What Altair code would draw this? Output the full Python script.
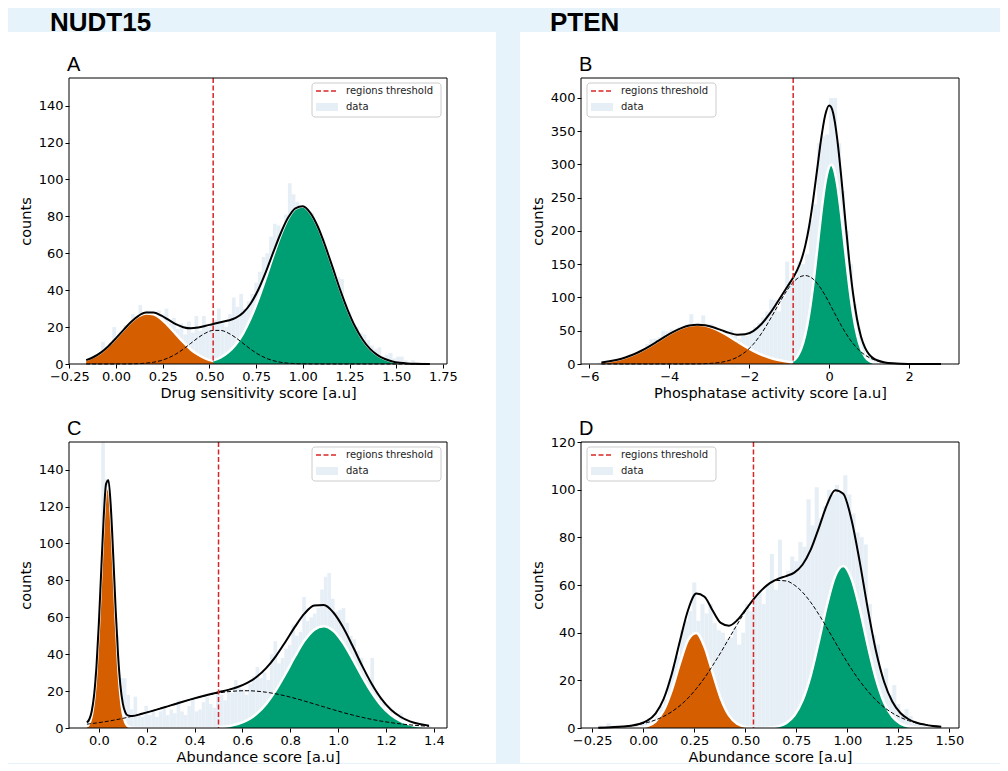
import altair as alt
import pandas as pd

# ---------------- data ----------------
# Panel A (NUDT15, drug sensitivity)
A_x = [-0.16, -0.12, -0.08, -0.04, 0.00, 0.04, 0.08, 0.12, 0.16, 0.20, 0.24, 0.28, 0.32, 0.36, 0.40, 0.44,
       0.48, 0.52, 0.56, 0.60, 0.64, 0.68, 0.72, 0.76, 0.80, 0.84, 0.88, 0.92, 0.96, 1.00, 1.04, 1.08,
       1.12, 1.16, 1.20, 1.24, 1.28, 1.32, 1.36, 1.40, 1.44, 1.48, 1.52, 1.56, 1.60, 1.64, 1.68]
A_low = [2.1, 3.8, 6.3, 9.8, 14.0, 18.5, 22.7, 25.9, 27.4, 26.9, 24.5, 20.7, 16.2, 11.8, 7.9, 5.0,
         2.9, 1.55, 0.8, 0.4, 0.15, 0.06, 0, 0, 0, 0, 0, 0, 0, 0, 0, 0,
         0, 0, 0, 0, 0, 0, 0, 0, 0, 0, 0, 0, 0, 0, 0]
A_mid = [0, 0, 0, 0, 0.01, 0.03, 0.08, 0.2, 0.46, 0.96, 1.85, 3.3, 5.35, 8.05, 11.2, 14.3,
         16.8, 18.2, 18.2, 16.8, 14.3, 11.2, 8.05, 5.35, 3.3, 1.85, 0.96, 0.46, 0.2, 0.08, 0.03, 0.01,
         0, 0, 0, 0, 0, 0, 0, 0, 0, 0, 0, 0, 0, 0, 0]
A_high = [0, 0, 0, 0, 0, 0, 0, 0, 0, 0, 0, 0, 0.04, 0.1, 0.22, 0.49,
          1.0, 1.96, 3.6, 6.35, 10.5, 16.5, 24.6, 34.6, 46.1, 58.2, 69.5, 78.6, 84.2, 85.4, 81.9, 74.5,
          64.0, 52.2, 40.2, 29.4, 20.3, 13.3, 8.2, 4.8, 2.7, 1.4, 0.7, 0.33, 0.15, 0.06, 0.02]
A_thr = 0.52
A_bin_start, A_bin_w = -0.16, 0.02
A_counts = [2, 3, 5, 6, 12, 9, 11, 20, 15, 18, 21, 19, 27, 24, 32, 26, 29, 25, 24, 29,
            27, 30, 22, 25, 19, 22, 16, 23, 17, 26, 18, 26, 20, 21, 24, 30, 22, 20, 27, 36,
            31, 38, 30, 34, 38, 44, 50, 58, 60, 69, 76, 75, 72, 81, 98, 92, 88, 84, 80, 78,
            82, 72, 70, 68, 60, 55, 50, 47, 46, 32, 28, 22, 20, 17, 16, 13, 10, 8, 9, 4,
            5, 6, 3, 4, 4, 2, 1, 2, 1, 1, 1, 0]

# Panel B (PTEN, phosphatase activity)
B_x = [-5.7, -5.5, -5.3, -5.1, -4.9, -4.7, -4.5, -4.3, -4.1, -3.9, -3.7, -3.5, -3.3, -3.1, -2.9, -2.7,
       -2.5, -2.3, -2.1, -1.9, -1.7, -1.5, -1.3, -1.1, -1.0, -0.9, -0.8, -0.7, -0.6, -0.5, -0.4, -0.3,
       -0.2, -0.1, 0.0, 0.05, 0.1, 0.2, 0.3, 0.4, 0.5, 0.6, 0.7, 0.8, 0.9, 1.0, 1.1, 1.2,
       1.4, 1.6, 1.8, 2.0, 2.2, 2.4, 2.6, 2.8]
B_low = [2.4, 4.0, 6.4, 9.8, 14.3, 19.9, 26.6, 33.9, 41.4, 48.3, 54.0, 57.7, 59.0, 57.7, 54.0, 48.3,
         41.4, 33.9, 26.6, 19.9, 14.3, 9.8, 6.4, 4.0, 3.15, 2.4, 1.85, 1.4, 1.04, 0.77, 0.56, 0.4,
         0.29, 0.2, 0.14, 0.12, 0.1, 0.07, 0.05, 0.03, 0.02, 0.01, 0.01, 0, 0, 0, 0, 0,
         0, 0, 0, 0, 0, 0, 0, 0]
B_mid = [0, 0, 0, 0, 0, 0, 0, 0, 0, 0.01, 0.03, 0.08, 0.2, 0.51, 1.21, 2.64,
         5.37, 10.2, 18.0, 29.6, 45.4, 64.7, 86.0, 106.5, 115.4, 122.8, 128.3, 131.8, 133.0, 131.6, 127.7, 121.3,
         113.0, 103.1, 92.1, 86.4, 80.7, 69.2, 58.2, 47.9, 38.7, 30.6, 23.7, 18.0, 13.4, 9.8, 7.0, 4.9,
         2.2, 0.95, 0.37, 0.14, 0.05, 0, 0, 0]
B_high = [0, 0, 0, 0, 0, 0, 0, 0, 0, 0, 0, 0, 0, 0, 0, 0,
          0, 0, 0, 0, 0, 0, 0, 0.7, 1.9, 4.7, 10.9, 22.7, 43.2, 74.8, 118.4, 171.0,
          225.1, 270.5, 296.6, 300.0, 296.6, 270.5, 225.1, 171.0, 118.4, 74.8, 43.2, 22.7, 10.9, 4.7, 1.9, 0.7,
          0.07, 0, 0, 0, 0, 0, 0, 0]
B_thr = -0.9
B_bin_start, B_bin_w = -5.8, 0.1
B_counts = [2, 2, 3, 4, 5, 6, 8, 9, 12, 14, 17, 19, 30, 37, 38, 40, 50, 49, 52, 50,
            55, 57, 60, 75, 58, 62, 73, 57, 60, 55, 52, 48, 46, 51, 42, 38, 44, 42, 50, 56,
            62, 70, 79, 97, 96, 79, 100, 154, 120, 133, 154, 150, 165, 217, 240, 332, 342, 345, 400, 400,
            332, 260, 200, 150, 90, 55, 30, 14, 10, 6, 4, 3, 3, 2, 1, 1, 1, 0, 1, 1,
            0, 1, 0, 0, 1, 0, 0]

# Panel C (NUDT15, abundance)
C_x = [-0.05, -0.04, -0.03, -0.02, -0.01, 0.00, 0.01, 0.02, 0.03, 0.04, 0.05, 0.06, 0.07, 0.08, 0.09, 0.10,
       0.11, 0.12, 0.14, 0.18, 0.22, 0.26, 0.30, 0.34, 0.38, 0.42, 0.46, 0.50, 0.54, 0.58, 0.62, 0.66,
       0.70, 0.74, 0.78, 0.82, 0.86, 0.90, 0.94, 0.98, 1.02, 1.06, 1.10, 1.14, 1.18, 1.22, 1.26, 1.30,
       1.34, 1.38]
C_low = [0.83, 2.5, 6.7, 15.4, 31.0, 54.3, 83.1, 110.8, 128.8, 130.6, 115.4, 89.0, 59.8, 35.0, 17.9, 8.0,
         3.1, 1.05, 0.08, 0, 0, 0, 0, 0, 0, 0, 0, 0, 0, 0, 0, 0,
         0, 0, 0, 0, 0, 0, 0, 0, 0, 0, 0, 0, 0, 0, 0, 0,
         0, 0]
C_mid = [2.09, 2.24, 2.40, 2.56, 2.73, 2.91, 3.10, 3.30, 3.51, 3.73, 3.95, 4.19, 4.43, 4.68, 4.95, 5.22,
         5.50, 5.79, 6.40, 7.72, 9.15, 10.68, 12.25, 13.82, 15.34, 16.74, 17.97, 18.97, 19.69, 20.1, 20.2, 19.94,
         19.37, 18.5, 17.38, 16.06, 14.59, 13.04, 11.46, 9.91, 8.42, 7.04, 5.79, 4.68, 3.73, 2.91, 2.24, 1.70,
         1.26, 0.92]
C_high = [0, 0, 0, 0, 0, 0, 0, 0, 0, 0, 0, 0, 0, 0, 0, 0,
          0, 0, 0, 0, 0, 0, 0, 0, 0.02, 0.06, 0.17, 0.42, 0.99, 2.14, 4.25, 7.8,
          13.2, 20.5, 29.4, 38.9, 47.5, 53.3, 55.2, 52.7, 46.3, 37.5, 28.0, 19.3, 12.2, 7.15, 3.86, 1.92,
          0.88, 0.37]
C_thr = 0.50
C_bin_start, C_bin_w = -0.05, 0.015
C_counts = [2, 8, 30, 60, 170, 135, 110, 70, 50, 27, 27, 18, 10, 17, 8, 6, 12, 7, 10, 6,
            9, 11, 7, 10, 8, 15, 9, 7, 12, 16, 9, 10, 14, 17, 13, 11, 19, 18, 15, 20,
            19, 26, 22, 21, 18, 24, 28, 33, 27, 30, 26, 40, 47, 35, 38, 43, 45, 56, 50, 52,
            71, 58, 60, 62, 65, 75, 82, 84, 70, 63, 64, 65, 57, 50, 48, 42, 38, 30, 26, 38,
            20, 16, 14, 10, 9, 6, 5, 8, 3, 2, 2, 1, 1, 1, 0, 1]

# Panel D (PTEN, abundance)
D_x = [-0.22, -0.18, -0.14, -0.10, -0.06, -0.02, 0.02, 0.06, 0.10, 0.14, 0.18, 0.22, 0.26, 0.30, 0.34, 0.38,
       0.42, 0.46, 0.50, 0.54, 0.58, 0.62, 0.66, 0.70, 0.74, 0.78, 0.82, 0.86, 0.90, 0.94, 0.98, 1.02,
       1.06, 1.10, 1.14, 1.18, 1.22, 1.26, 1.30, 1.34, 1.38, 1.42, 1.46]
D_low = [0, 0, 0, 0, 0, 0.18, 0.78, 2.69, 7.34, 15.9, 27.2, 37.0, 39.9, 34.1, 23.1, 12.4,
         5.3, 1.79, 0.48, 0.1, 0, 0, 0, 0, 0, 0, 0, 0, 0, 0, 0, 0,
         0, 0, 0, 0, 0, 0, 0, 0, 0, 0, 0]
D_mid = [0.13, 0.22, 0.37, 0.61, 0.97, 1.51, 2.29, 3.38, 4.87, 6.86, 9.41, 12.6, 16.5, 21.0, 26.2, 31.7,
         37.6, 43.4, 49.0, 53.9, 57.8, 60.6, 61.9, 61.7, 60.0, 57.0, 52.8, 47.7, 42.0, 36.1, 30.3, 24.8,
         19.8, 15.5, 11.7, 8.7, 6.3, 4.46, 3.07, 2.06, 1.36, 0.87, 0.54]
D_high = [0, 0, 0, 0, 0, 0, 0, 0, 0, 0, 0, 0, 0, 0, 0, 0,
          0, 0, 0, 0, 0.05, 0.2, 0.67, 2.04, 5.2, 11.5, 21.9, 36.2, 51.6, 63.7, 68.0, 62.7,
          50.2, 34.6, 20.7, 10.7, 4.8, 1.84, 0.6, 0.17, 0.05, 0.01, 0]
D_thr = 0.54
D_bin_start, D_bin_w = -0.22, 0.02
D_counts = [1, 0, 2, 1, 1, 0, 0, 1, 0, 1, 2, 2, 4, 3, 5, 9, 12, 20, 26, 30,
            41, 45, 49, 61, 45, 52, 48, 52, 44, 41, 40, 37, 38, 42, 35, 40, 52, 49, 55, 58,
            52, 60, 73, 58, 79, 62, 66, 72, 70, 78, 76, 96, 85, 101, 88, 93, 100, 98, 102, 99,
            106, 98, 90, 82, 80, 77, 52, 39, 35, 22, 25, 14, 18, 10, 6, 8, 5, 3, 2, 1,
            1, 0, 1, 0]

# ---------------- styling ----------------
BG = "#e6f3fa"
ORANGE = "#d55e00"
GREEN = "#009e73"
BAR = "#e6eef6"
RED = "#d62728"
W, H = 378, 286
ONE = pd.DataFrame({"k": [0]})
AX_FONT = "DejaVu Sans"


def deco_rect(x, x2, y, y2, **kw):
    return alt.Chart(ONE).mark_rect(**kw).encode(
        x=alt.value(x), x2=alt.value(x2), y=alt.value(y), y2=alt.value(y2))


def deco_text(x, y, text, **kw):
    return alt.Chart(ONE).mark_text(**kw).encode(
        x=alt.value(x), y=alt.value(y), text=alt.value(text))


def panel(letter, xs, lo, mi, hi, thr, bstart, bw, counts, xdom, ydom, xticks, yticks,
          xfmt, xtitle, legend_left, pre=None):
    curves = pd.DataFrame({"x": xs, "lo": lo, "mi": mi, "hi": hi})
    hist = pd.DataFrame({"count": counts})
    hist["x0"] = [bstart + i * bw for i in range(len(counts))]
    hist["x1"] = hist["x0"] + bw
    hist["base"] = 0

    xsc = alt.Scale(domain=xdom, nice=False, zero=False)
    ysc = alt.Scale(domain=ydom, nice=False, zero=False)
    common = dict(zindex=2, labelFont=AX_FONT, labelFontSize=13, labelColor="black",
                  labelPadding=2, tickColor="black", tickSize=4, tickWidth=1, domain=False,
                  grid=False, titleFont=AX_FONT, titleFontSize=14.5, titleFontWeight="normal",
                  titleColor="black", labelFlush=False, labelOverlap=False)
    xax = alt.Axis(title=xtitle, values=xticks, format=xfmt, titlePadding=3, **common)
    yax = alt.Axis(title="counts", values=yticks, format="d", titlePadding=5, **common)

    def X(f):
        return alt.X(f, type="quantitative", scale=xsc, axis=xax)

    def Y(f):
        return alt.Y(f, type="quantitative", scale=ysc, axis=yax)

    bars = alt.Chart(hist).mark_rect(color=BAR, clip=True).encode(
        x=X("x0"), x2="x1", y=Y("count"), y2="base")
    base = alt.Chart(curves)
    left = base.transform_filter(alt.datum.x <= thr)
    right = base.transform_filter(alt.datum.x >= thr)
    o_area = left.mark_area(color=ORANGE, interpolate="monotone").encode(x=X("x"), y=Y("lo"))
    g_area = right.mark_area(color=GREEN, interpolate="monotone").encode(x=X("x"), y=Y("hi"))
    o_edge = left.mark_line(color="white", strokeWidth=2.5, interpolate="monotone").encode(x=X("x"), y=Y("lo"))
    g_edge = right.mark_line(color="white", strokeWidth=2.5, interpolate="monotone").encode(x=X("x"), y=Y("hi"))
    mid = base.mark_line(color="black", strokeWidth=1, strokeDash=[4, 2],
                         interpolate="monotone").encode(x=X("x"), y=Y("mi"))
    total = base.transform_calculate(tot="datum.lo + datum.mi + datum.hi").mark_line(
        color="black", strokeWidth=2, interpolate="monotone").encode(x=X("x"), y=Y("tot:Q"))
    rule = alt.Chart(pd.DataFrame({"t": [thr]})).mark_rule(
        color=RED, strokeWidth=1.5, strokeDash=[5, 2.5]).encode(x=X("t"))
    frame = deco_rect(0, W, 0, H, fillOpacity=0, stroke="black", strokeWidth=1)

    lx = 6 if legend_left else 243
    legend = [
        deco_rect(lx, lx + 129, 5, 39, fill="white", fillOpacity=0.85, stroke="#cccccc",
                  strokeWidth=1, cornerRadius=3),
        alt.Chart(ONE).mark_rule(color=RED, strokeWidth=1.5, strokeDash=[5, 2.5]).encode(
            x=alt.value(lx + 4), x2=alt.value(lx + 26), y=alt.value(13)),
        deco_rect(lx + 4, lx + 26, 25, 33, color=BAR),
        deco_text(lx + 34, 13, "regions threshold", align="left", baseline="middle",
                  font=AX_FONT, fontSize=10, color="#222222"),
        deco_text(lx + 34, 29, "data", align="left", baseline="middle",
                  font=AX_FONT, fontSize=10, color="#222222"),
    ]
    letter_t = deco_text(-2, -7, letter, align="left", baseline="alphabetic",
                         font="Liberation Sans", fontSize=20, color="black")
    layers = (pre or []) + [bars, o_area, g_area, o_edge, g_edge, mid, total, rule, frame] + legend + [letter_t]
    return alt.layer(*layers).properties(width=W, height=H)


# page decoration drawn in panel A (offsets relative to its plot origin)
pre_A = [
    deco_rect(-61, 931, -70, 685, color=BG),
    deco_rect(-61, 427, -46, 685, color="white"),
    deco_rect(451, 931, -46, 685, color="white"),
    deco_text(-19, -47, "NUDT15", align="left", baseline="alphabetic",
              font="Liberation Sans", fontSize=26, fontWeight="bold", color="black"),
    deco_text(481, -47, "PTEN", align="left", baseline="alphabetic",
              font="Liberation Sans", fontSize=26, fontWeight="bold", color="black"),
]

pA = panel("A", A_x, A_low, A_mid, A_high, A_thr, A_bin_start, A_bin_w, A_counts,
           [-0.252, 1.772], [0, 155], [-0.25, 0, 0.25, 0.5, 0.75, 1.0, 1.25, 1.5, 1.75],
           [0, 20, 40, 60, 80, 100, 120, 140], ".2f", "Drug sensitivity score [a.u]", False, pre_A)
pB = panel("B", B_x, B_low, B_mid, B_high, B_thr, B_bin_start, B_bin_w, B_counts,
           [-6.21, 3.25], [0, 430], [-6, -4, -2, 0, 2],
           [0, 50, 100, 150, 200, 250, 300, 350, 400], "d", "Phosphatase activity score [a.u]", True)
pC = panel("C", C_x, C_low, C_mid, C_high, C_thr, C_bin_start, C_bin_w, C_counts,
           [-0.125, 1.455], [0, 155], [0.0, 0.2, 0.4, 0.6, 0.8, 1.0, 1.2, 1.4],
           [0, 20, 40, 60, 80, 100, 120, 140], ".1f", "Abundance score [a.u]", False)
pD = panel("D", D_x, D_low, D_mid, D_high, D_thr, D_bin_start, D_bin_w, D_counts,
           [-0.305, 1.547], [0, 120], [-0.25, 0, 0.25, 0.5, 0.75, 1.0, 1.25, 1.5],
           [0, 20, 40, 60, 80, 100, 120], ".2f", "Abundance score [a.u]", True)

chart = alt.concat(pA, pB, pC, pD, columns=2, spacing={"row": 78, "column": 134},
                   bounds="flush").properties(padding=0).configure(
    background=BG
).configure_view(strokeOpacity=0)

chart.save("out.html", embed_options={"renderer": "svg", "actions": False})
